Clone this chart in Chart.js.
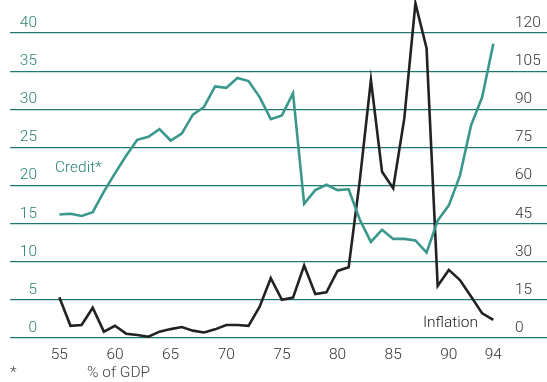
<html>
<head>
  <style>
    body{
      margin: 0;
      background-color: #FFFFFF;
    }
    #wrap{
      position: relative;
      width: 547px;
      height: 382px;
    }
  </style>
  <script src="https://cdn.jsdelivr.net/npm/chart.js"></script>
</head>
<body>

<div id="wrap">
  <canvas id="myChart"></canvas>
</div>

<script>
  const ctx = document.getElementById('myChart');

  var years = [55, 56, 57, 58, 59, 60, 61, 62, 63, 64, 65, 66, 67, 68, 69, 70, 71, 72, 73, 74,
               75, 76, 77, 78, 79, 80, 81, 82, 83, 84, 85, 86, 87, 88, 89, 90, 91, 92, 93, 94];
  // % of GDP, left axis
  var credit = [16.2, 16.3, 16.0, 16.5, 19.2, 21.6, 23.9, 26.0, 26.4, 27.4, 25.9, 26.8, 29.3, 30.3, 33.0, 32.8, 34.1, 33.7, 31.6, 28.7,
                29.2, 32.1, 17.6, 19.4, 20.1, 19.4, 19.5, 15.5, 12.6, 14.2, 13.0, 13.0, 12.8, 11.2, 15.4, 17.4, 21.3, 27.9, 31.6, 38.6];
  // %, right axis
  var inflation = [16.0, 4.8, 5.1, 11.9, 2.5, 4.8, 1.7, 1.2, 0.5, 2.5, 3.5, 4.3, 2.9, 2.2, 3.4, 5.1, 5.1, 4.8, 12.3, 23.5,
                   15.0, 15.9, 28.5, 17.3, 18.0, 26.4, 27.8, 62.0, 101.5, 65.4, 58.9, 86.4, 131.7, 114.0, 20.5, 26.8, 22.8, 16.3, 9.7, 7.1];
  var xTicks = [55, 60, 65, 70, 75, 80, 85, 90, 94];
  var leftTicks = [0, 5, 10, 15, 20, 25, 30, 35, 40];
  var rightTicks = [0, 15, 30, 45, 60, 75, 90, 105, 120];

  var gridColor = '#1f786e';
  var teal = '#3a978c';
  var dark = '#222222';
  var fontFamily = "Roboto, 'Liberation Sans', Arial, sans-serif";

  Chart.defaults.font.family = fontFamily;
  Chart.defaults.font.size = 15.5;
  Chart.defaults.font.weight = 300;

  // series labels and footnote
  var notes = {
    id: 'notes',
    afterDatasetsDraw(chart) {
      var c = chart.ctx, x = chart.scales.x, yl = chart.scales.y, yr = chart.scales.y2;
      c.save();
      c.font = '300 15.5px ' + fontFamily;
      c.textBaseline = 'middle';
      c.textAlign = 'left';
      c.fillStyle = '#2a8276';
      c.fillText('Credit*', x.getPixelForValue(54.6), yl.getPixelForValue(22.3));
      c.fillStyle = dark;
      c.fillText('Inflation', x.getPixelForValue(87.67), yr.getPixelForValue(6.0));
      c.fillStyle = '#444';
      var fy = chart.chartArea.bottom + 35;
      c.fillText('*', 10, fy);
      c.fillText('% of GDP', 87, fy);
      c.restore();
    }
  };

  new Chart(ctx, {
    type: 'line',
    data: {
      datasets: [{
        label: 'Credit*',
        data: years.map((yr, i) => ({x: yr, y: credit[i]})),
        borderColor: teal,
        borderWidth: 2.6,
        pointRadius: 0,
        tension: 0,
        yAxisID: 'y'
      },
      {
        label: 'Inflation',
        data: years.map((yr, i) => ({x: yr, y: inflation[i]})),
        borderColor: dark,
        borderWidth: 2.6,
        pointRadius: 0,
        tension: 0,
        yAxisID: 'y2'
      }]
    },
    options: {
      responsive: true,
      maintainAspectRatio: false,
      animation: false,
      layout: { padding: 0 },
      plugins: {
        legend: { display: false },
        tooltip: { enabled: false }
      },
      scales: {
        x: {
          type: 'linear',
          min: 54.43,
          max: 94.6,
          afterBuildTicks: s => { s.ticks = xTicks.map(v => ({value: v})); },
          afterFit: s => { s.height = 44; },
          grid: { display: false },
          border: { display: false },
          ticks: { color: '#333', padding: 0, maxRotation: 0, autoSkip: false }
        },
        y: {
          position: 'left',
          min: 0,
          max: 44.33,
          afterBuildTicks: s => { s.ticks = leftTicks.map(v => ({value: v})); },
          afterFit: s => { s.width = 53; },
          grid: { color: gridColor, lineWidth: 1.2, drawTicks: true, tickLength: 43 },
          border: { display: false },
          ticks: { color: '#2a8276', padding: -27, labelOffset: -10 }
        },
        y2: {
          position: 'right',
          min: 0,
          max: 133,
          afterBuildTicks: s => { s.ticks = rightTicks.map(v => ({value: v})); },
          afterFit: s => { s.width = 47; },
          grid: { color: gridColor, lineWidth: 1.2, drawOnChartArea: false, drawTicks: true, tickLength: 47 },
          border: { display: false },
          ticks: { color: '#333', padding: -32, labelOffset: -10 }
        }
      }
    },
    plugins: [notes]
  });
</script>
</body>
</html>
